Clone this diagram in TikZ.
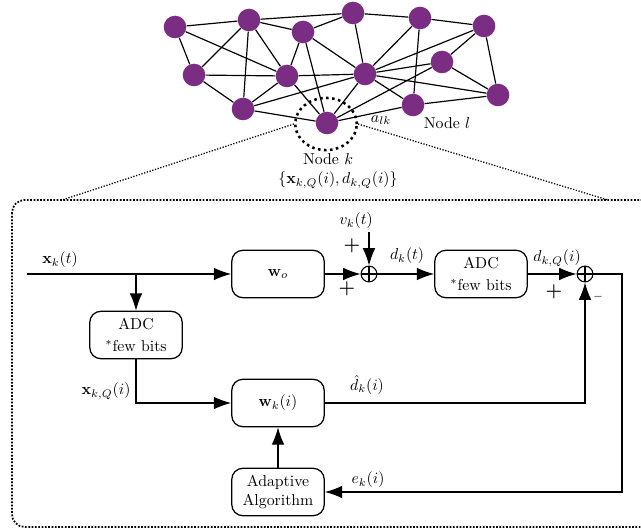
\documentclass[tikz,border=0pt]{standalone}
\usetikzlibrary{arrows.meta,shapes.geometric}
\definecolor{netpurple}{RGB}{123,44,131}
\begin{document}
\begin{tikzpicture}[x=0.633pt,y=-0.633pt,
  netnode/.style={circle,fill=netpurple,minimum size=14.3pt,inner sep=0pt},
  netedge/.style={line width=0.75pt},
  blk/.style={draw,line width=0.8pt,rounded corners=7pt,minimum width=58.5pt,minimum height=30pt,align=center,inner sep=1pt},
  sumnode/.style={circle,draw,line width=0.7pt,minimum size=10pt,inner sep=0pt},
  sig/.style={line width=0.8pt},
  arr/.style={sig,-{Latex[length=11pt,width=8pt]}},
  lbl/.style={inner sep=0pt},
  plus/.style={inner sep=0pt,font=\large\bfseries}
]
\useasboundingbox (0,0) rectangle (641,531);
\clip (0,0) rectangle (641,531);
% network nodes
\node[netnode] (n1) at (175,27) {};
\node[netnode] (n2) at (249,20) {};
\node[netnode] (n3) at (303,32) {};
\node[netnode] (n4) at (353,13) {};
\node[netnode] (n5) at (420,18) {};
\node[netnode] (n6) at (484,26) {};
\node[netnode] (n7) at (194,75) {};
\node[netnode] (n8) at (287,76) {};
\node[netnode] (n9) at (365,74) {};
\node[netnode] (n10) at (442,62) {};
\node[netnode] (n11) at (498,95) {};
\node[netnode] (n12) at (243,109) {};
\node[netnode] (n13) at (327,123) {};
\node[netnode] (n14) at (413,105) {};
\foreach \a/\b in {1/2,1/7,1/8,2/7,2/12,2/8,2/3,2/4,3/8,3/4,3/13,3/9,4/5,4/9,5/6,5/9,5/14,6/9,6/10,6/11,7/8,7/12,8/9,8/12,8/13,12/13,12/9,9/10,9/11,9/14,9/13,10/11,10/13,14/11,13/14}
  \draw[netedge] (n\a) -- (n\b);
% zoom ellipse
\node[ellipse,draw,line width=1.6pt,dash pattern=on 1.6pt off 2.2pt,minimum width=39pt,minimum height=33pt,inner sep=0pt] (circ) at (326,124) {};
\node[lbl] (alk) at (381,120) {$a_{lk}$};
\node[lbl] (nl) at (447,123) {Node $l$};
\node[lbl] (nk) at (328,159) {Node $k$};
\node[lbl] (nkd) at (338,180) {$\{\mathbf{x}_{k,Q}(i), d_{k,Q}(i)\}$};
\coordinate (bl) at (62,200);
\coordinate (br) at (608,200);
\draw[line width=0.8pt,densely dotted] (circ.west) -- (bl);
\draw[line width=0.8pt,densely dotted] (circ.east) -- (br);
% big box
\draw[line width=1.1pt,densely dotted,rounded corners=8pt] (12,200) rectangle (680,527);
% block diagram
\coordinate (in) at (27,274);
\coordinate (br1) at (136,274);
\node[blk] (wo) at (278,274) {$\mathbf{w}_o$};
\node[sumnode] (s1) at (369,274) {};
\draw[line width=0.7pt] (s1.north) -- (s1.south) (s1.west) -- (s1.east);
\node[blk] (adc2) at (481,274) {ADC\\[2pt]$^*$few bits};
\node[sumnode] (s2) at (585,274) {};
\draw[line width=0.7pt] (s2.north) -- (s2.south) (s2.west) -- (s2.east);
\node[blk] (adc1) at (136,335) {ADC\\[2pt]$^*$few bits};
\node[blk] (wk) at (278,403) {$\mathbf{w}_k(i)$};
\node[blk] (alg) at (278,492) {Adaptive\\Algorithm};
\coordinate (vtop) at (369,232);
\coordinate (c1) at (622,274);
\coordinate (c2) at (622,492);
\coordinate (c3) at (136,403);
\coordinate (c4) at (585,403);
\draw[arr] (in) -- (wo);
\draw[arr] (br1) -- (adc1);
\draw[arr] (wo) -- (s1);
\draw[arr] (vtop) -- (s1);
\draw[arr] (s1) -- (adc2);
\draw[arr] (adc2) -- (s2);
\draw[arr] (s2) -- (c1) -- (c2) -- (alg);
\draw[arr] (adc1) -- (c3) -- (wk);
\draw[arr] (wk) -- (c4) -- (s2);
\draw[arr] (alg) -- (wk);
% labels
\node[lbl] (lxk) at (60,260) {$\mathbf{x}_k(t)$};
\node[lbl] (lvk) at (356,221) {$v_k(t)$};
\node[plus] (p1) at (352,246) {+};
\node[plus] (p2) at (347,289) {+};
\node[lbl] (ldk) at (407,256) {$d_k(t)$};
\node[lbl] (ldkq) at (557,258) {$d_{k,Q}(i)$};
\node[plus] (p3) at (554,292) {+};
\node[lbl] (m1) at (598,297) {\scriptsize$-$};
\node[lbl] (lxkq) at (106,391) {$\mathbf{x}_{k,Q}(i)$};
\node[lbl] (ldh) at (367,385) {$\hat{d}_k(i)$};
\node[lbl] (lek) at (368,480) {$e_k(i)$};
\end{tikzpicture}
\end{document}
